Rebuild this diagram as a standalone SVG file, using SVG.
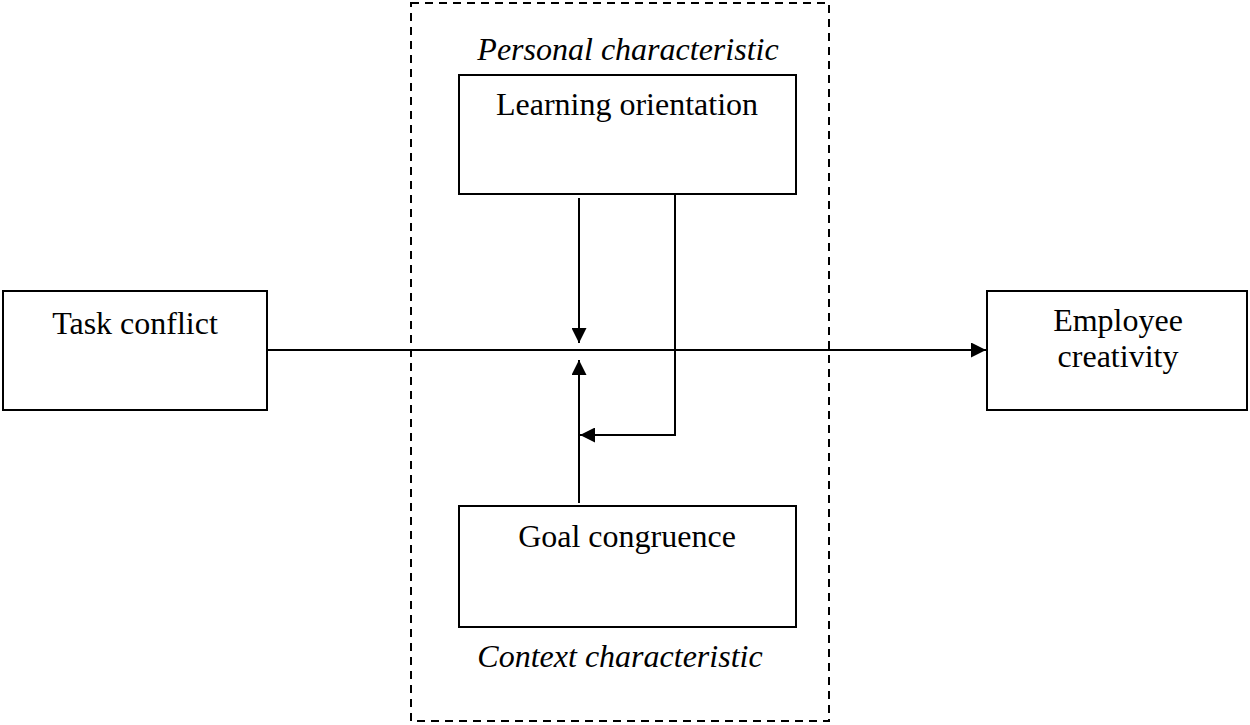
<svg xmlns="http://www.w3.org/2000/svg" width="1250" height="725" viewBox="0 0 1250 725">
<style>
.box{fill:#fff;stroke:#000;stroke-width:2}
.t{font-family:"Liberation Serif",serif;font-size:32px;fill:#000;text-anchor:middle}
.i{font-style:italic}
.c{stroke:#000;stroke-width:2;fill:none}
</style>
<defs>
<marker id="ah" viewBox="0 0 10 10" refX="10" refY="5" markerWidth="7.5" markerHeight="7.5" markerUnits="strokeWidth" orient="auto">
<path d="M0,0 L10,5 L0,10 z" fill="#000"/>
</marker>
</defs>
<rect x="411" y="3" width="418" height="718" fill="none" stroke="#000" stroke-width="2" stroke-dasharray="8,6"/>
<text class="t i" x="628" y="60">Personal characteristic</text>
<text class="t i" x="620" y="667">Context characteristic</text>
<g id="learning"><rect class="box" x="459" y="75" width="337" height="119"/><text class="t" x="627" y="115">Learning orientation</text></g>
<g id="goal"><rect class="box" x="459" y="506" width="337" height="121"/><text class="t" x="627" y="547">Goal congruence</text></g>
<g id="task"><rect class="box" x="3" y="291" width="264" height="119"/><text class="t" x="135" y="334">Task conflict</text></g>
<g id="creativity"><rect class="box" x="987" y="291" width="260" height="119"/><text class="t" x="1118" y="331">Employee</text><text class="t" x="1118" y="367">creativity</text></g>
<g id="connectors">
<line class="c" x1="267" y1="350" x2="986" y2="350" marker-end="url(#ah)"/>
<line class="c" x1="579" y1="198" x2="579" y2="343" marker-end="url(#ah)"/>
<line class="c" x1="579" y1="503" x2="579" y2="360" marker-end="url(#ah)"/>
<polyline class="c" points="675,194 675,435 580,435" marker-end="url(#ah)"/>
</g>
</svg>
